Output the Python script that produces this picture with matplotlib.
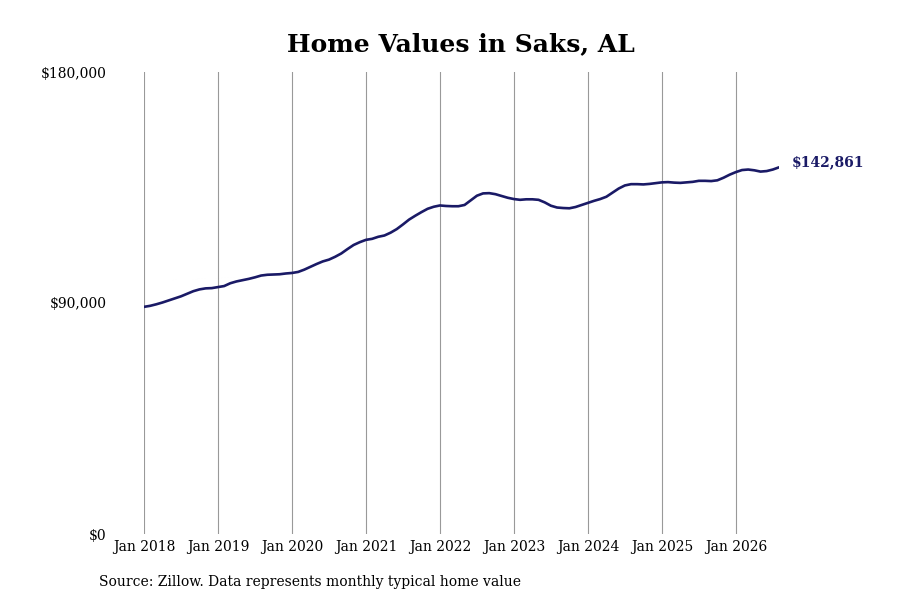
import matplotlib
matplotlib.use("Agg")
import matplotlib.pyplot as plt

values = [
    88500, 88900, 89500, 90200, 91000, 91800, 92600, 93600, 94600, 95300, 95700, 95800,
    96200, 96600, 97700, 98400, 98900, 99400, 100000, 100700, 101000, 101100, 101200, 101500,
    101700, 102100, 103000, 104100, 105200, 106200, 106900, 108000, 109300, 111000, 112600, 113700,
    114600, 115000, 115800, 116300, 117400, 118800, 120600, 122500, 124000, 125400, 126700, 127500,
    128000, 127800, 127700, 127700, 128200, 130000, 131800, 132700, 132800, 132400, 131700, 131000,
    130500, 130200, 130400, 130400, 130200, 129200, 127900, 127200, 127000, 126900, 127400, 128200,
    129000, 129800, 130500, 131400, 133000, 134600, 135800, 136300, 136300, 136200, 136400, 136700,
    137000, 137100, 136900, 136800, 137000, 137200, 137600, 137600, 137500, 137800, 138800, 140000,
    141000, 141800, 142000, 141700, 141200, 141400, 142000, 142861,
]
tick_labels = ["Jan 2018", "Jan 2019", "Jan 2020", "Jan 2021", "Jan 2022",
               "Jan 2023", "Jan 2024", "Jan 2025", "Jan 2026"]
y_ticks = [0, 90000, 180000]
y_tick_labels = ["$0", "$90,000", "$180,000"]
title = "Home Values in Saks, AL"
source = "Source: Zillow. Data represents monthly typical home value"

plt.rcParams['font.family'] = ['DejaVu Serif']

fig = plt.figure(figsize=(9, 6), dpi=100)
ax = fig.add_axes([144/900, 1-534/600, (779-144)/900, (534-72)/600])

months = list(range(len(values)))
ax.plot(months, values, color='#1a1a66', lw=1.9, solid_capstyle='round', zorder=3)

ax.set_xlim(0, 103)
ax.set_ylim(0, 180000)
ax.set_xticks([12*i for i in range(len(tick_labels))])
ax.set_xticklabels(tick_labels, fontsize=10)
ax.set_yticks(y_ticks)
ax.set_yticklabels(y_tick_labels, fontsize=10)
ax.tick_params(axis='both', length=0)
ax.tick_params(axis='y', pad=27)
ax.tick_params(axis='x', pad=4)
ax.grid(axis='x', color='#999999', lw=0.8)
ax.grid(axis='y', visible=False)
for s in ax.spines.values():
    s.set_visible(False)

ax.annotate("$%s" % format(values[-1], ","), xy=(months[-1], values[-1]),
            xytext=(9.5, 3.8), textcoords='offset points', va='center', ha='left',
            fontsize=10, fontweight='bold', color='#1a1a66', annotation_clip=False)

fig.text(461/900, 1-44/600, title, ha='center', va='center', fontsize=18, fontweight='bold')
fig.text(99/900, 1-582/600, source, ha='left', va='center', fontsize=10)

fig.savefig("out.png", dpi=100)
